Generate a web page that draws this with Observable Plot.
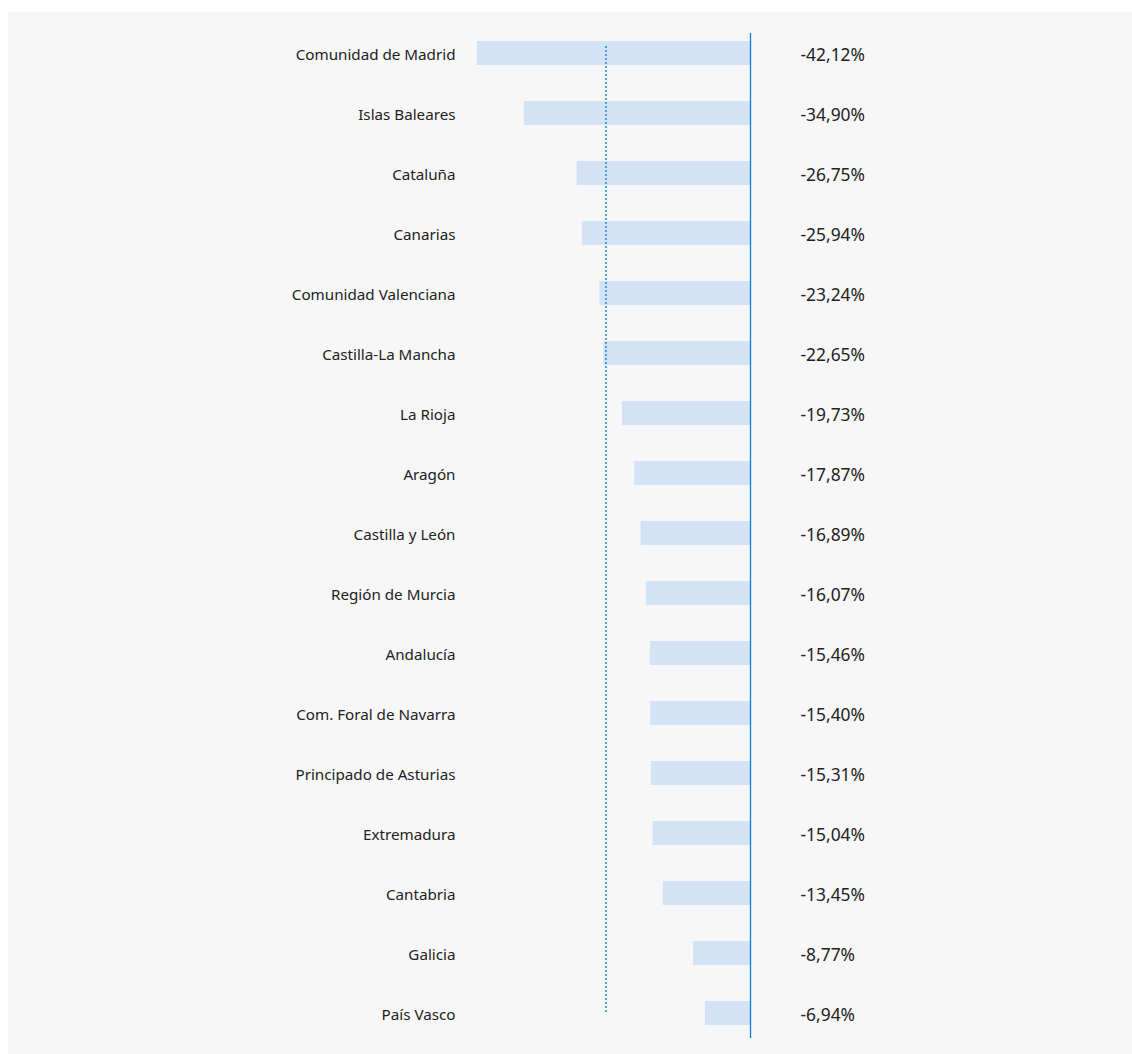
<!DOCTYPE html>
<html>
<head>
<meta charset="utf-8">
<script src="https://cdn.jsdelivr.net/npm/d3@7"></script>
<script src="https://cdn.jsdelivr.net/npm/@observablehq/plot@0.6"></script>
<style>
  html, body { margin: 0; padding: 0; background: #ffffff; }
  #panel { position: absolute; left: 8px; top: 12px; width: 1124px; height: 1042px; background: #f7f7f7; }
  #panel svg { display: block; }
</style>
</head>
<body>
<div id="panel"></div>
<script>
const regions = ["Comunidad de Madrid", "Islas Baleares", "Cataluña", "Canarias", "Comunidad Valenciana", "Castilla-La Mancha", "La Rioja", "Aragón", "Castilla y León", "Región de Murcia", "Andalucía", "Com. Foral de Navarra", "Principado de Asturias", "Extremadura", "Cantabria", "Galicia", "País Vasco"];
const values = [-42.12, -34.90, -26.75, -25.94, -23.24, -22.65, -19.73, -17.87, -16.89, -16.07, -15.46, -15.40, -15.31, -15.04, -13.45, -8.77, -6.94];
const reference = -22.3;

const data = regions.map((r, i) => ({region: r, value: values[i]}));
const fmt = v => v.toFixed(2).replace(".", ",") + "%";

const chart = Plot.plot({
  width: 1124,
  height: 1042,
  marginLeft: 469,
  marginRight: 382,
  marginTop: 16,
  marginBottom: 16,
  style: {background: "transparent", fontFamily: "'Noto Sans', sans-serif", fontSize: "15px", color: "#222"},
  x: {domain: [-42.12, 0], axis: null},
  y: {domain: regions, paddingInner: 0.6, paddingOuter: 0.2, label: null},
  marks: [
    Plot.barX(data, {x: "value", y: "region", fill: "#d3e2f5"}),
    Plot.ruleX([reference], {y1: () => regions[0], y2: () => regions[regions.length - 1], insetTop: 5, insetBottom: 12, stroke: "#1b88d6", strokeWidth: 1.5, strokeDasharray: "2,2"}),
    Plot.ruleX([0], {stroke: "#0a7dd2", strokeWidth: 1.3, insetTop: 5, insetBottom: 0}),
    Plot.axisY({tickSize: 0, tickPadding: 22, fontSize: 15.2, fill: "#222", dy: 2, label: null}),
    Plot.text(data, {x: 0, y: "region", text: d => fmt(d.value), dx: 50, dy: 2, textAnchor: "start", fontSize: 17.4, fill: "#222"})
  ]
});
document.getElementById("panel").appendChild(chart);
</script>
</body>
</html>
